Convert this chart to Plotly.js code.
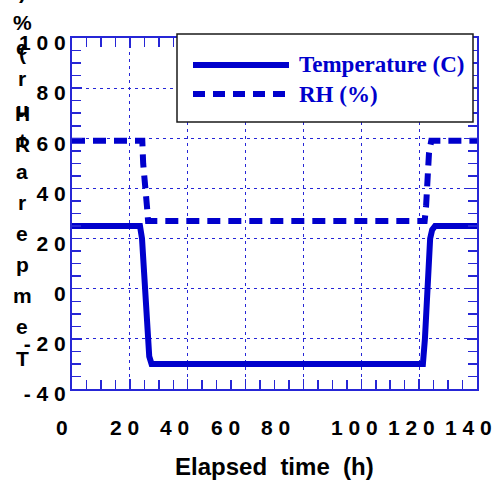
<!DOCTYPE html>
<html>
<head>
<meta charset="utf-8">
<script src="https://cdn.plot.ly/plotly-3.0.1.min.js"></script>
<style>
  html, body { margin: 0; padding: 0; background: #ffffff; }
  #chart { width: 502px; height: 484px; }
</style>
</head>
<body>
<div id="chart"></div>
<script>
// Chamber cycle: temperature and relative humidity against elapsed time
const timeTemp = [0, 23.5, 24.2, 25.2, 26.0, 26.7, 27.5, 121.3, 122.0, 123.0, 123.8, 124.5, 125.5, 140];
const tempC    = [25, 25, 20, 0, -20, -27, -30, -30, -20, 0, 20, 23.5, 25, 25];

const timeRH = [0, 24.3, 24.6, 25.4, 25.9, 26.3, 121.9, 122.4, 123.0, 123.4, 124.2, 140];
const rhPct  = [59, 59, 50, 42, 33, 27, 27, 33, 46, 54, 59, 59];

const seriesNames = ['Temperature (C)', 'RH (%)'];

// axis tick labels
const xTickVals  = [0, 20, 40, 60, 80, 100, 120, 140];
const xTickText  = ['0', '2 0', '4 0', '6 0', '8 0', '1 0 0', '1 2 0', '1 4 0'];
const yTickVals  = [-40, -20, 0, 20, 40, 60, 80, 100];
const yTickText  = ['- 4 0', '- 2 0', '0', '2 0', '4 0', '6 0', '8 0', '1 0 0'];
// the bottom labels are set packed to the left of their ticks (in hours)
const xLabelAt   = [-3.5, 18.3, 35.6, 52.9, 70.2, 97.8, 117.5, 137.2];

const xTitle = 'Elapsed\u00a0\u00a0time\u00a0\u00a0(h)';
const yTitleA = 'Temperature (C)';
const yTitleB = 'RH (%)';

// plot-area geometry in pixels
const M = { l: 72, r: 25, t: 38, b: 95 };
const W = 502, H = 484;
const PW = W - M.l - M.r, PH = H - M.t - M.b;
const px = x => (x - M.l) / PW;
const py = y => (H - M.b - y) / PH;
const X_RANGE = [0, 140];
const hoursToPaper = h => (h - X_RANGE[0]) / (X_RANGE[1] - X_RANGE[0]);

const blue = '#0000cc';
const axisBlue = '#2626d6';
const sans = 'Liberation Sans, Arial, sans-serif';
const serif = 'Liberation Serif, Times New Roman, serif';
const labelFont = { family: sans, size: 21, color: '#000000', weight: 700 };

const traces = [
  {
    x: timeTemp, y: tempC, name: seriesNames[0], type: 'scatter', mode: 'lines',
    line: { color: blue, width: 6 }, showlegend: false
  },
  {
    x: timeRH, y: rhPct, name: seriesNames[1], type: 'scatter', mode: 'lines',
    line: { color: blue, width: 6, dash: '13px,8px' }, showlegend: false
  }
];

const annotations = [];

// vertical, letter-by-letter axis title (two overlapping columns)
function stackChars(str, bottomPy, step, xPx) {
  str.split('').forEach((c, i) => {
    if (c === ' ') return;
    annotations.push({
      text: c, xref: 'paper', yref: 'paper', x: px(xPx), y: py(bottomPy - i * step),
      xanchor: 'center', yanchor: 'middle', showarrow: false, font: labelFont
    });
  });
}
stackChars(yTitleA, 358, 31.1, 22);
stackChars(yTitleB, 144, 30.5, 22);

// bottom tick labels along the time axis
xTickText.forEach((t, i) => {
  annotations.push({
    text: t, xref: 'paper', yref: 'paper', x: hoursToPaper(xLabelAt[i]), y: py(427),
    xanchor: 'center', yanchor: 'middle', showarrow: false, font: labelFont
  });
});

// time axis title
annotations.push({
  text: xTitle, xref: 'paper', yref: 'paper', x: px(274), y: py(466),
  xanchor: 'center', yanchor: 'middle', showarrow: false,
  font: { family: sans, size: 24, color: '#000000', weight: 700 }
});

// legend entries
[[seriesNames[0], 65], [seriesNames[1], 94]].forEach(([t, yy]) => {
  annotations.push({
    text: t, xref: 'paper', yref: 'paper', x: px(297), y: py(yy),
    xanchor: 'left', yanchor: 'middle', showarrow: false,
    font: { family: serif, size: 23, color: blue, weight: 700 }
  });
});

const shapes = [
  { type: 'rect', xref: 'paper', yref: 'paper', x0: px(177), x1: px(473), y0: py(122), y1: py(34),
    fillcolor: '#ffffff', line: { color: '#1a1a1a', width: 1.5 }, layer: 'above' },
  { type: 'line', xref: 'paper', yref: 'paper', x0: px(193), x1: px(289), y0: py(65), y1: py(65),
    line: { color: blue, width: 6 }, layer: 'above' },
  { type: 'line', xref: 'paper', yref: 'paper', x0: px(193), x1: px(289), y0: py(94), y1: py(94),
    line: { color: blue, width: 6, dash: '12px,8px' }, layer: 'above' }
];

const axisCommon = {
  showgrid: true, gridcolor: axisBlue, gridwidth: 1, griddash: '3px,4px',
  showline: true, linecolor: axisBlue, linewidth: 2, mirror: 'allticks',
  ticks: 'inside', ticklen: 10, tickwidth: 1.5, tickcolor: axisBlue,
  zeroline: false, fixedrange: true,
  minor: { ticks: 'inside', dtick: 5, ticklen: 9, tickwidth: 1.5, tickcolor: axisBlue, showgrid: false }
};

const layout = {
  width: W, height: H,
  margin: M,
  paper_bgcolor: '#ffffff', plot_bgcolor: '#ffffff',
  showlegend: false,
  xaxis: Object.assign({}, axisCommon, {
    range: X_RANGE, tickmode: 'array', tickvals: xTickVals, showticklabels: false
  }),
  yaxis: Object.assign({}, axisCommon, {
    range: [-40, 100], tickmode: 'array', tickvals: yTickVals, ticktext: yTickText,
    tickfont: labelFont, ticklabelshift: 5
  }),
  annotations: annotations,
  shapes: shapes
};

Plotly.newPlot('chart', traces, layout, { staticPlot: true, displayModeBar: false });
</script>
</body>
</html>
